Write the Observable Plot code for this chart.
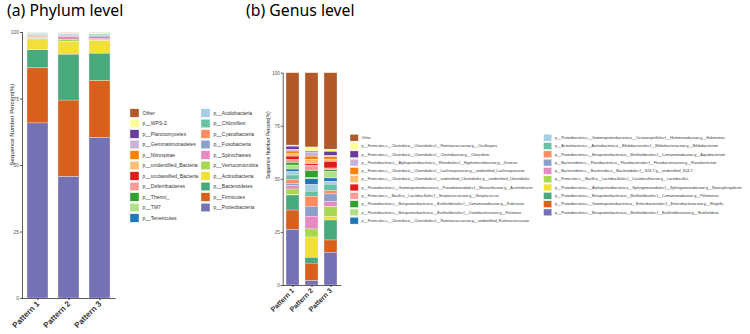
<!DOCTYPE html>
<html><head><meta charset="utf-8">
<script src="https://cdn.jsdelivr.net/npm/d3@7"></script>
<script src="https://cdn.jsdelivr.net/npm/@observablehq/plot@0.6"></script>
<style>
body{margin:0;background:#fff;}
#wrap{position:relative;width:750px;height:334px;overflow:hidden;font-family:"Liberation Sans",Arial,sans-serif;}
.title{position:absolute;font-family:"Noto Sans",sans-serif;font-size:15.8px;color:#000;white-space:nowrap;line-height:20px;}
#pa,#pb{position:absolute;top:0;}
#leg{position:absolute;left:0;top:0;}
</style></head><body>
<div id="wrap">
 <div class="title" style="left:7px;top:0px">(a) Phylum level</div>
 <div class="title" style="left:246px;top:0px">(b) Genus level</div>
 <div id="pa" style="left:0px"></div>
 <div id="pb" style="left:230px"></div>
 <svg id="leg" width="750" height="334"></svg>
</div>
<script>
const patterns = ["Pattern 1", "Pattern 2", "Pattern 3"];

// Phylum level (legend order: column 1 then column 2)
const phylumNames = ["Other","p__WPS-2","p__Planctomycetes","p__Gemmatimonadetes","p__Nitrospirae",
  "p__unidentified_Bacteria","p__unclassified_Bacteria","p__Deferribacteres","p__Thermi_","p__TM7",
  "p__Tenericutes","p__Acidobacteria","p__Chloroflexi","p__Cyanobacteria","p__Fusobacteria",
  "p__Spirochaetes","p__Verrucomicrobia","p__Actinobacteria","p__Bacteroidetes","p__Firmicutes","p__Proteobacteria"];
const phylumP1 = [0.2,0.05,0.05,0.05,0.05,0.15,0.05,0.1,0.1,0.1,0.1,0.3,0.3,0.3,0.2,0.2,0.3,4.1,6.8,20.7,65.8];
const phylumP2 = [0.2,0.05,0.05,0.05,0.05,0.05,0.05,0.05,0.05,0.05,0.05,0.2,0.3,0.2,0.3,1.0,0.9,4.8,17.2,28.8,45.6];
const phylumP3 = [0.2,0.05,0.05,0.05,0.05,0.05,0.05,0.05,0.05,0.05,0.05,0.2,0.4,0.3,0.8,0.3,0.5,4.8,10.3,21.4,60.3];

// Genus level
const genusNames = ["Other",
  "p__Firmicutes;c__Clostridia;o__Clostridiales;f__Ruminococcaceae;g__Oscillospira",
  "p__Firmicutes;c__Clostridia;o__Clostridiales;f__Clostridiaceae;g__Clostridium",
  "p__Proteobacteria;c__Alphaproteobacteria;o__Rhizobiales;f__Hyphomicrobiaceae;g__Devosia",
  "p__Firmicutes;c__Clostridia;o__Clostridiales;f__Lachnospiraceae;g__unidentified_Lachnospiraceae",
  "p__Firmicutes;c__Clostridia;o__Clostridiales;f__unidentified_Clostridiales;g__unidentified_Clostridiales",
  "p__Proteobacteria;c__Gammaproteobacteria;o__Pseudomonadales;f__Moraxellaceae;g__Acinetobacter",
  "p__Firmicutes;c__Bacilli;o__Lactobacillales;f__Streptococcaceae;g__Streptococcus",
  "p__Proteobacteria;c__Betaproteobacteria;o__Burkholderiales;f__Comamonadaceae;g__Rubrivivax",
  "p__Proteobacteria;c__Betaproteobacteria;o__Burkholderiales;f__Oxalobacteraceae;g__Ralstonia",
  "p__Firmicutes;c__Clostridia;o__Clostridiales;f__Ruminococcaceae;g__unidentified_Ruminococcaceae",
  "p__Proteobacteria;c__Gammaproteobacteria;o__Oceanospirillales;f__Halomonadaceae;g__Halomonas",
  "p__Actinobacteria;c__Actinobacteria;o__Bifidobacteriales;f__Bifidobacteriaceae;g__Bifidobacterium",
  "p__Proteobacteria;c__Betaproteobacteria;o__Burkholderiales;f__Comamonadaceae;g__Aquabacterium",
  "p__Bacteroidetes;c__Flavobacteriia;o__Flavobacteriales;f__Flavobacteriaceae;g__Flavobacterium",
  "p__Bacteroidetes;c__Bacteroidia;o__Bacteroidales;f__S24-7;g__unidentified_S24-7",
  "p__Firmicutes;c__Bacilli;o__Lactobacillales;f__Lactobacillaceae;g__Lactobacillus",
  "p__Proteobacteria;c__Alphaproteobacteria;o__Sphingomonadales;f__Sphingomonadaceae;g__Novosphingobium",
  "p__Proteobacteria;c__Betaproteobacteria;o__Burkholderiales;f__Comamonadaceae;g__Pelomonas",
  "p__Proteobacteria;c__Gammaproteobacteria;o__Enterobacteriales;f__Enterobacteriaceae;g__Shigella",
  "p__Proteobacteria;c__Betaproteobacteria;o__Burkholderiales;f__Burkholderiaceae;g__Burkholderia"];
const genusP1 = [34.1,0.5,1.4,0.9,1.3,1.1,1.7,1.3,1.2,1.9,1.2,1.6,2.3,1.6,1.1,1.6,2.5,0.3,7.1,9.1,26.2];
const genusP2 = [35.0,2.0,0.6,1.7,1.6,2.0,0.8,2.4,3.4,0.5,2.7,3.1,2.4,4.7,4.7,6.0,3.8,9.6,2.7,8.3,2.0];
const genusP3 = [36.0,1.1,1.9,0.6,1.1,1.1,3.1,0.8,0.8,3.1,1.6,1.3,3.0,1.6,3.6,2.4,4.7,1.6,9.4,5.8,15.4];

const palette = ["#b15928","#ffff99","#6a3d9a","#cab2d6","#ff7f00","#fdbf6f","#e31a1c","#fb9a99",
  "#33a02c","#b2df8a","#1f78b4","#a6cee3","#66c2a5","#fc8d62","#8da0cb","#e78ac3","#a6d854",
  "#f2df3a","#48a97c","#d9601c","#7571b5"];

function table(names, series) {
  const rows = [];
  names.forEach((n, i) => series.forEach((s, j) => rows.push({pattern: patterns[j], taxon: n, value: s[i]})));
  return rows;
}

function panel(rows, names, o) {
  return Plot.plot({
    width: o.width, height: 334,
    marginLeft: o.ml, marginRight: o.mr, marginTop: o.mt, marginBottom: o.mb,
    x: {domain: patterns, paddingInner: o.pi, paddingOuter: o.po, label: null},
    y: {domain: [0, 100], label: null},
    color: {domain: names, range: palette},
    style: {fontFamily: "Liberation Sans, Arial, sans-serif", background: "transparent", overflow: "visible"},
    marks: [
      Plot.barY(rows, {x: "pattern", y: "value", fill: "taxon", order: [...names].reverse(),
        stroke: "white", strokeWidth: 0.3}),
      Plot.axisY({ticks: [0, 25, 50, 75, 100], tickSize: 2, tickPadding: 1.5, fontSize: o.yfs,
        color: "#555", label: null}),
      Plot.axisX({tickRotate: -45, tickSize: 2, tickPadding: 2, fontSize: o.xfs, fontWeight: "bold",
        color: "#333", label: null}),
      Plot.ruleY([0], {stroke: "#333", strokeWidth: 0.8}),
      Plot.frame({anchor: "left", stroke: "#333", strokeWidth: 0.8}),
      Plot.text(["Sequence Number Percent(%)"], {frameAnchor: "left", dx: o.ldx, rotate: -90,
        fontSize: o.lfs, fill: "#222"})
    ]
  });
}

document.getElementById("pa").append(panel(table(phylumNames, [phylumP1, phylumP2, phylumP3]), phylumNames,
  {width: 130, ml: 22, mr: 14.25, mt: 32, mb: 36, pi: 0.32, po: 0.16, yfs: 5, xfs: 8, ldx: -10, lfs: 6}));
document.getElementById("pb").append(panel(table(genusNames, [genusP1, genusP2, genusP3]), genusNames,
  {width: 120, ml: 52.7, mr: 8.7, mt: 72.7, mb: 49, pi: 0.29, po: 0.155, yfs: 4.5, xfs: 7, ldx: -14.7, lfs: 5}));

// Legends
const leg = d3.select("#leg");
function legend(names, o) {
  names.forEach((n, i) => {
    const col = i < o.split ? 0 : 1;
    const row = col ? i - o.split : i;
    const x = o.cx[col], cy = o.y0 + row * o.dy;
    leg.append("rect").attr("x", x).attr("y", cy - o.sh / 2).attr("width", o.sw).attr("height", o.sh)
      .attr("fill", palette[i]).attr("stroke", "#fff").attr("stroke-width", 0.4);
    leg.append("text").attr("x", x + o.tx).attr("y", cy).attr("dy", "0.35em")
      .attr("font-size", o.fs).attr("fill", "#333")
      .attr("font-family", "Liberation Sans, Arial, sans-serif").text(n);
  });
}
legend(phylumNames, {split: 11, cx: [130, 201], y0: 113, dy: 10.5, sw: 9, sh: 8.5, tx: 12.5, fs: 5});
legend(genusNames, {split: 11, cx: [350, 543.5], y0: 137.7, dy: 8.3, sw: 8.3, sh: 6.8, tx: 11.5, fs: 3.7});
</script>
</body></html>
